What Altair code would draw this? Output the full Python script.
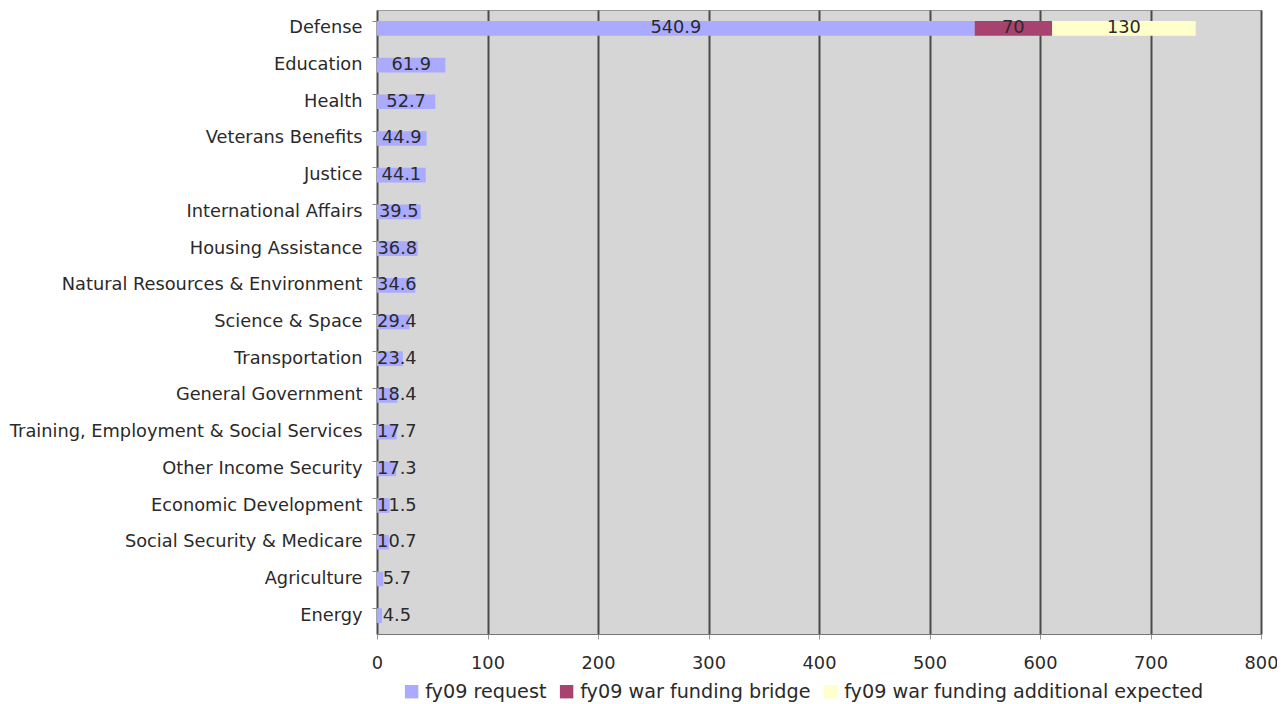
import altair as alt
import pandas as pd

categories = ["Defense", "Education", "Health", "Veterans Benefits", "Justice",
              "International Affairs", "Housing Assistance",
              "Natural Resources & Environment", "Science & Space", "Transportation",
              "General Government", "Training, Employment & Social Services",
              "Other Income Security", "Economic Development",
              "Social Security & Medicare", "Agriculture", "Energy"]
request = [540.9, 61.9, 52.7, 44.9, 44.1, 39.5, 36.8, 34.6, 29.4, 23.4, 18.4,
           17.7, 17.3, 11.5, 10.7, 5.7, 4.5]
bridge = [70] + [0] * 16
additional = [130] + [0] * 16
series = ["fy09 request", "fy09 war funding bridge", "fy09 war funding additional expected"]
colors = ["#aaaaff", "#a8426f", "#ffffcc"]

rows = []
for i, c in enumerate(categories):
    start = 0.0
    for k, vals in enumerate([request, bridge, additional]):
        v = vals[i]
        if v > 0:
            mid = max(start + v / 2, 18)
            rows.append({"category": c, "series": series[k], "order": k,
                         "start": start, "end": start + v, "value": v,
                         "label_x": mid, "label": f"{v:g}"})
        start += v
df = pd.DataFrame(rows)

font = "DejaVu Sans"
fs = 17.8
yenc = alt.Y("category:N", sort=categories, title=None,
             scale=alt.Scale(paddingInner=0.6, paddingOuter=0.3),
             axis=alt.Axis(labelFont=font, labelFontSize=fs, labelColor="#2a2a2a",
                           labelPadding=10, labelLimit=0, ticks=True, tickSize=5,
                           tickColor="#888", domain=False, bandPosition=0))

bars = alt.Chart(df).mark_bar(strokeWidth=0).encode(
    x=alt.X("start:Q", scale=alt.Scale(domain=[0, 800], nice=False), title=None,
            axis=alt.Axis(values=[0, 100, 200, 300, 400, 500, 600, 700, 800],
                          labelFont=font, labelFontSize=fs, labelColor="#2a2a2a",
                          labelPadding=15, labelFlush=False, grid=True,
                          gridColor="#4a4a4a", gridWidth=2, tickColor="#999",
                          tickSize=5, domainColor="#777", domainWidth=1)),
    x2="end:Q",
    y=yenc,
    color=alt.Color("series:N", sort=series,
                    scale=alt.Scale(domain=series, range=colors),
                    legend=alt.Legend(orient="none", legendX=25, legendY=672,
                                      direction="horizontal",
                                      title=None, symbolType="square",
                                      symbolSize=180, symbolStrokeWidth=0,
                                      labelFont=font, labelFontSize=19.2,
                                      labelLimit=0, labelOffset=4,
                                      labelColor="#2a2a2a", columnPadding=10,
                                      symbolOpacity=1)),
)

labels = alt.Chart(df).mark_text(font=font, fontSize=fs, color="#2a2a2a",
                                 align="center", baseline="middle").encode(
    x="label_x:Q",
    y=alt.Y("category:N", sort=categories),
    text="label:N",
)

chart = alt.layer(bars, labels).properties(
    width=884, height=624,
    background="white",
    autosize=alt.AutoSizeParams(type="none"),
    padding={"left": 369, "top": 2, "right": 16, "bottom": 70},
).configure_view(
    fill="#d6d6d6", stroke="#999", strokeWidth=1
)

chart.save("out.html", embed_options={"renderer": "svg", "actions": False})
